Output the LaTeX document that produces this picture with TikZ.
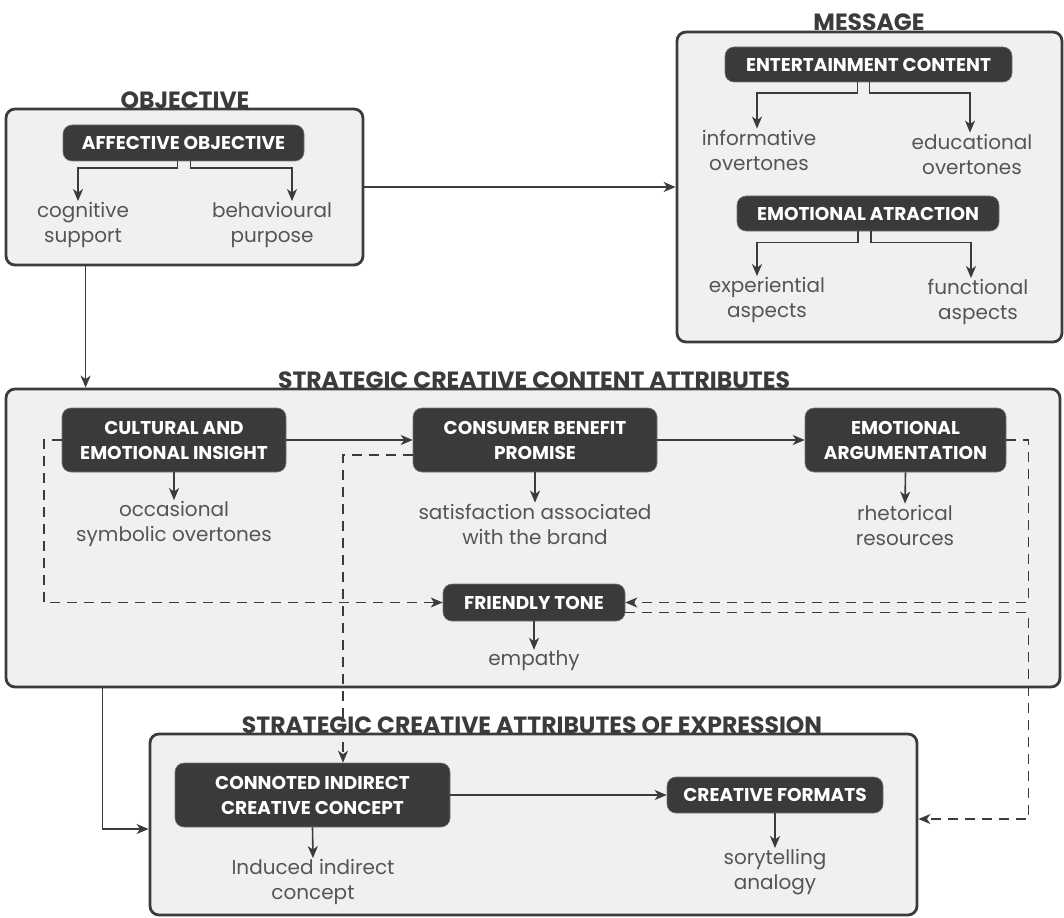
\documentclass[tikz,border=0pt]{standalone}
\usepackage{fontspec}
\setmainfont{Poppins}
\usetikzlibrary{arrows.meta,calc}
\definecolor{linec}{HTML}{3B3B3B}
\definecolor{panelbg}{HTML}{F0F0F0}
\definecolor{darkc}{HTML}{3A3A3A}
\definecolor{txtc}{HTML}{555555}
\tikzset{
  panel/.style={draw=linec, line width=2.8pt, fill=panelbg, rounded corners=9pt, inner sep=0pt},
  darkbox/.style={fill=darkc, draw=darkc!70!white, line width=0.6pt, rounded corners=9pt, text=white, inner sep=0pt, align=center, font=\bfseries\fontsize{18.5}{25}\selectfont},
  lbl/.style={text=txtc, align=center, inner sep=1pt, font=\fontsize{20}{25}\selectfont},
  ttl/.style={text=linec, anchor=base, inner sep=0pt, font=\bfseries\fontsize{23.5}{26}\selectfont},
  arr/.style={draw=linec, line width=1.6pt, -{Stealth[length=12pt,width=10pt,inset=3.5pt]}},
  dsh/.style={dash pattern=on 10pt off 7pt}
}
\begin{document}
\begin{tikzpicture}[x=1pt,y=-1pt]
\useasboundingbox (0,0) rectangle (1064,917);
% panels
\node[panel, minimum width=357pt, minimum height=156pt] (obj) at (184.5,187) {};
\node[panel, minimum width=385pt, minimum height=310pt] (msg) at (869.5,187) {};
\node[panel, minimum width=1054pt, minimum height=298pt] (sca) at (533,538) {};
\node[panel, minimum width=767pt, minimum height=181pt] (exp) at (533.5,824.5) {};
% titles
\node[ttl] (tobj) at (185,109) {OBJECTIVE};
\node[ttl] (tmsg) at (869,31) {MESSAGE};
\node[ttl] (tsca) at (534,388) {STRATEGIC CREATIVE CONTENT ATTRIBUTES};
\node[ttl] (texp) at (532,733) {STRATEGIC CREATIVE ATTRIBUTES OF EXPRESSION};
% dark boxes
\node[darkbox, minimum width=241pt, minimum height=36pt] (aff) at (183.5,143) {AFFECTIVE OBJECTIVE};
\node[darkbox, minimum width=287pt, minimum height=35pt] (ent) at (868.5,64.5) {ENTERTAINMENT CONTENT};
\node[darkbox, minimum width=262pt, minimum height=35pt] (emo) at (868,213.5) {EMOTIONAL ATRACTION};
\node[darkbox, minimum width=224pt, minimum height=64pt] (cul) at (174,440) {CULTURAL AND\\EMOTIONAL INSIGHT};
\node[darkbox, minimum width=244pt, minimum height=64pt] (con) at (535,440) {CONSUMER BENEFIT\\PROMISE};
\node[darkbox, minimum width=201pt, minimum height=64pt] (arg) at (905.5,440) {EMOTIONAL\\ARGUMENTATION};
\node[darkbox, minimum width=182pt, minimum height=37pt] (fri) at (534,602.5) {FRIENDLY TONE};
\node[darkbox, minimum width=275pt, minimum height=64pt] (cnc) at (312.5,795) {CONNOTED INDIRECT\\CREATIVE CONCEPT};
\node[darkbox, minimum width=216pt, minimum height=36pt] (fmt) at (775,795) {CREATIVE FORMATS};
% labels
\node[lbl] (cog) at (83,225) {cognitive\\support};
\node[lbl] (beh) at (272,225) {behavioural\\purpose};
\node[lbl] (inf) at (759,150) {informative\\overtones};
\node[lbl] (edu) at (972,154) {educational\\overtones};
\node[lbl] (exr) at (767,300) {experiential\\aspects};
\node[lbl] (fun) at (978,302) {functional\\aspects};
\node[lbl] (occ) at (174,524) {occasional\\symbolic overtones};
\node[lbl] (sat) at (535,524) {satisfaction associated\\with the brand};
\node[lbl] (rhe) at (905,525) {rhetorical\\resources};
\node[lbl] (emp) at (534,661) {empathy};
\node[lbl] (ind) at (313,882) {Induced indirect\\concept};
\node[lbl] (sto) at (775,872) {sorytelling\\analogy};
% helper coordinates
\coordinate (o1) at ($(obj.south west)+(81,0)$);
\coordinate (s1) at ($(sca.south west)+(98,0)$);
\coordinate (dL) at ($(cul.west)+(-18,0)$);
\coordinate (dR) at ($(arg.east)+(22,0)$);
% solid connectors
\draw[arr] ([xshift=-6pt]aff.south) -- ++(0,7) -| ([xshift=-5pt]cog.north);
\draw[arr] ([xshift=7pt]aff.south) -- ++(0,7) -| ([xshift=20pt]beh.north);
\draw[arr] ([xshift=-11pt]ent.south) -- ++(0,11) -| ([xshift=-2pt]inf.north);
\draw[arr] ([xshift=1pt]ent.south) -- ++(0,11) -| ([xshift=-2pt]edu.north);
\draw[arr] ([xshift=-10pt]emo.south) -- ++(0,11) -| ([xshift=-10pt]exr.north);
\draw[arr] ([xshift=3pt]emo.south) -- ++(0,11) -| ([xshift=-7pt]fun.north);
\draw[arr] (obj.east) -- (msg.west);
\draw[arr] (o1) -- (o1 |- sca.north);
\draw[arr] (cul.east) -- (con.west);
\draw[arr] (con.east) -- (arg.west);
\draw[arr] (cul.south) -- (occ.north);
\draw[arr] (con.south) -- (sat.north);
\draw[arr] (arg.south) -- (rhe.north);
\draw[arr] (fri.south) -- (emp.north);
\draw[arr] (s1) |- ([yshift=-4.5pt]exp.west);
\draw[arr] (cnc.east) -- (fmt.west);
\draw[arr] (cnc.south) -- (ind.north);
\draw[arr] (fmt.south) -- (sto.north);
% dashed connectors
\draw[arr,dsh] (cul.west) -- (dL) |- (fri.west);
\draw[arr,dsh] ([yshift=-15pt]con.west) -| ([xshift=30.5pt]cnc.north);
\draw[arr,dsh] (arg.east) -- (dR) |- (fri.east);
\draw[arr,dsh] ([yshift=-10pt]fri.east) -- ([yshift=-10pt]fri.east -| dR) |- ([yshift=5.5pt]exp.east);
\end{tikzpicture}
\end{document}
